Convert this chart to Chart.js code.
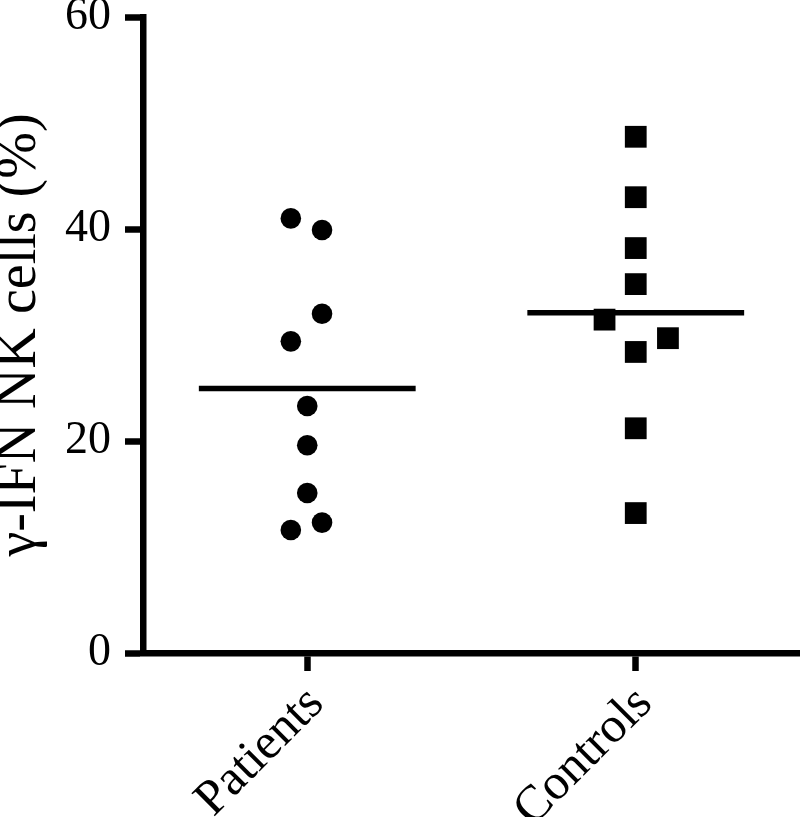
<!DOCTYPE html>
<html>
<head>
<meta charset="utf-8">
<script src="https://cdn.jsdelivr.net/npm/chart.js@4"></script>
<style>
  body { margin: 0; background: #fff; }
</style>
</head>
<body>
<canvas id="nkChart" width="800" height="817"></canvas>
<script>
// ===== Data =====
const groups = ['Patients', 'Controls']
const groupPos = [1, 2]

const patientsY = [41.0, 39.9, 32.0, 29.4, 23.3, 19.6, 15.1, 11.6, 12.3]
const patientsJitter = [-0.05, 0.045, 0.045, -0.05, 0, 0, 0, -0.05, 0.045]

const controlsY = [48.7, 43.0, 38.2, 34.8, 31.45, 29.7, 28.4, 21.2, 13.2]
const controlsJitter = [0, 0, 0, 0, -0.095, 0.098, 0, 0, 0]

const groupMeans = [24.95, 32.1]
const meanHalfWidth = 0.33

const yTicks = [0, 20, 40, 60]

// build point lists from the arrays
const toPoints = (ys, jit, pos) => ys.map((y, i) => ({ x: pos + jit[i], y: y }))
const meanLine = (i) => [
  { x: groupPos[i] - meanHalfWidth, y: groupMeans[i] },
  { x: groupPos[i] + meanHalfWidth, y: groupMeans[i] }
]

Chart.defaults.font.family = '"Liberation Serif", "Times New Roman", serif'
Chart.defaults.color = '#000'

// axis lines / tick marks shared by both scales
const axisGrid = {
  drawOnChartArea: false,
  drawTicks: true,
  tickLength: 18,
  tickWidth: 6.5,
  tickColor: '#000'
}

const ctx = document.getElementById('nkChart').getContext('2d')
window.nkChart = new Chart(ctx, {
  type: 'scatter',
  data: {
    datasets: [
      {
        label: 'Patients',
        data: toPoints(patientsY, patientsJitter, groupPos[0]),
        pointStyle: 'circle',
        pointRadius: 10.3,
        backgroundColor: '#000',
        borderWidth: 0
      },
      {
        label: 'Controls',
        data: toPoints(controlsY, controlsJitter, groupPos[1]),
        pointStyle: 'rect',
        pointRadius: 15.4,
        backgroundColor: '#000',
        borderWidth: 0
      },
      {
        type: 'line',
        label: 'Patients mean',
        data: meanLine(0),
        borderColor: '#000',
        borderWidth: 5.5,
        pointRadius: 0
      },
      {
        type: 'line',
        label: 'Controls mean',
        data: meanLine(1),
        borderColor: '#000',
        borderWidth: 5.5,
        pointRadius: 0
      }
    ]
  },
  options: {
    responsive: false,
    animation: false,
    layout: { autoPadding: false, padding: { top: 17, left: 0, right: 0, bottom: 0 } },
    plugins: {
      legend: { display: false },
      tooltip: { enabled: false }
    },
    scales: {
      x: {
        type: 'linear',
        min: 0.5,
        max: 2.5,
        afterFit: (scale) => {
          scale.height = 164
          scale.paddingLeft = 0
          scale.paddingRight = 0
        },
        afterBuildTicks: (scale) => { scale.ticks = groupPos.map(v => ({ value: v })) },
        border: { display: true, color: '#000', width: 6.5 },
        grid: axisGrid,
        ticks: {
          autoSkip: false,
          minRotation: 45,
          maxRotation: 45,
          padding: 4,
          labelOffset: 9,
          font: { size: 50 },
          color: '#000',
          callback: (v) => groups[groupPos.indexOf(v)] || ''
        }
      },
      y: {
        min: 0,
        max: 60,
        afterFit: (scale) => {
          scale.width = 143
          scale.paddingTop = 0
          scale.paddingBottom = 0
        },
        afterBuildTicks: (scale) => { scale.ticks = yTicks.map(v => ({ value: v })) },
        border: { display: true, color: '#000', width: 6.5 },
        grid: axisGrid,
        ticks: {
          padding: 14,
          font: { size: 46 },
          color: '#000'
        },
        title: {
          display: true,
          text: 'γ-IFN NK cells (%)',
          font: { size: 56 },
          color: '#000',
          padding: { top: -13, bottom: 0 }
        }
      }
    }
  }
})
</script>
</body>
</html>
